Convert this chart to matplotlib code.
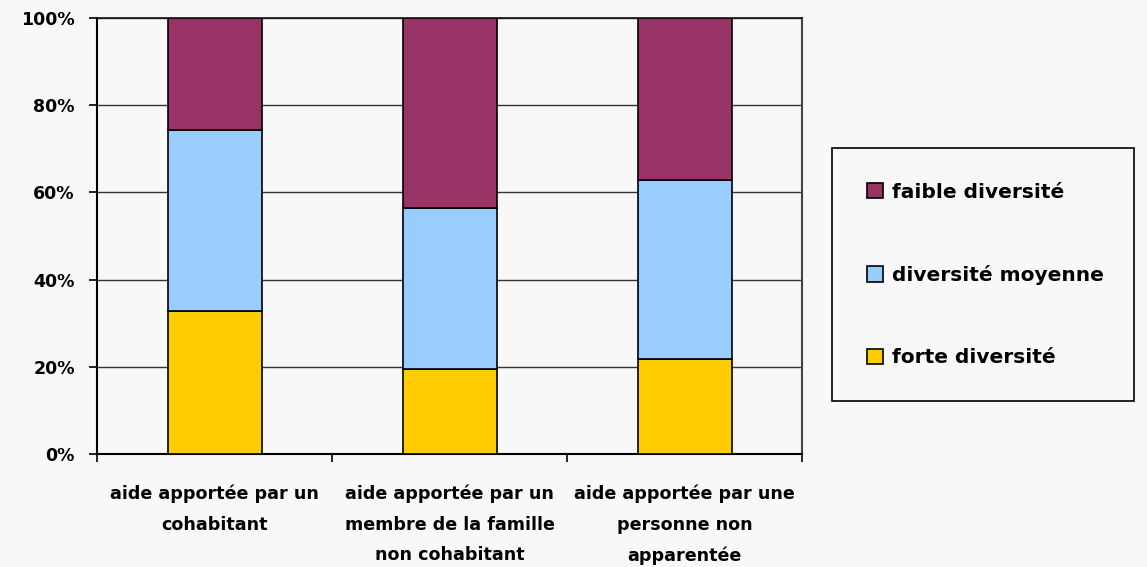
import matplotlib
matplotlib.use("Agg")
import matplotlib.pyplot as plt
from matplotlib.patches import Rectangle
from matplotlib import font_manager

categories = ["aide apportée par un\ncohabitant",
              "aide apportée par un\nmembre de la famille\nnon cohabitant",
              "aide apportée par une\npersonne non\napparentée"]
forte = [32.8, 19.6, 21.8]
moyenne = [41.6, 36.9, 41.0]
faible = [25.6, 43.5, 37.2]
series_labels = ["forte diversité", "diversité moyenne", "faible diversité"]
colors = ["#FFCC00", "#99CCFF", "#993366"]
yticks = [0, 20, 40, 60, 80, 100]

names = {f.name for f in font_manager.fontManager.ttflist}
cond = "DejaVu Sans Condensed" if "DejaVu Sans Condensed" in names else "DejaVu Sans"

bg = "#F8F8F8"
fig = plt.figure(figsize=(11.47, 5.67), dpi=100, facecolor=bg)
ax = fig.add_axes([97/1147, 1-454/567, 705/1147, 436/567])
ax.set_facecolor(bg)

x = list(range(len(categories)))
bottom = [0]*len(categories)
handles = []
for vals, lab, col in zip([forte, moyenne, faible], series_labels, colors):
    h = ax.bar(x, vals, width=0.4, bottom=bottom, color=col, edgecolor="black",
               linewidth=1.2, label=lab, zorder=3)
    handles.append(h)
    bottom = [b + v for b, v in zip(bottom, vals)]

ax.set_xlim(-0.5, 2.5)
ax.set_ylim(0, 100)
ax.set_yticks(yticks)
ax.set_yticklabels([f"{t}%" for t in yticks], fontsize=12.5, fontweight="bold",
                   family="DejaVu Sans")
ax.yaxis.grid(True, color="#333333", linewidth=1.0, zorder=0)
ax.tick_params(axis="y", length=6, width=1.2, direction="out", pad=10)

# category ticks sit on the boundaries between bars
ax.set_xticks([-0.5, 0.5, 1.5, 2.5])
ax.set_xticklabels([])
ax.tick_params(axis="x", length=6, width=1.2, direction="out")
ax.set_xticks(x, minor=True)
ax.set_xticklabels(categories, minor=True, fontsize=12.6, family=cond,
                   fontweight="bold", linespacing=1.9)
ax.tick_params(axis="x", which="minor", length=0, pad=22)

ax.spines["left"].set_linewidth(1.5)
ax.spines["bottom"].set_linewidth(1.5)
ax.spines["right"].set_color("#444444")
ax.spines["right"].set_linewidth(1.5)
ax.spines["top"].set_color("#111111")
ax.spines["top"].set_linewidth(1.2)

# legend box
fig.patches.append(Rectangle((832/1147, 1-401/567), 302/1147, 253/567,
                             transform=fig.transFigure, facecolor=bg,
                             edgecolor="black", linewidth=1.2))
leg = fig.legend(handles[::-1], series_labels[::-1], loc="center left",
                 bbox_to_anchor=(849/1147, 1-275/567), frameon=False,
                 prop={"family": "DejaVu Sans", "weight": "bold", "size": 14.5},
                 handlelength=0.8, handleheight=0.8, handletextpad=0.45,
                 labelspacing=3.15)

fig.savefig("out.png", dpi=100, facecolor=bg)
